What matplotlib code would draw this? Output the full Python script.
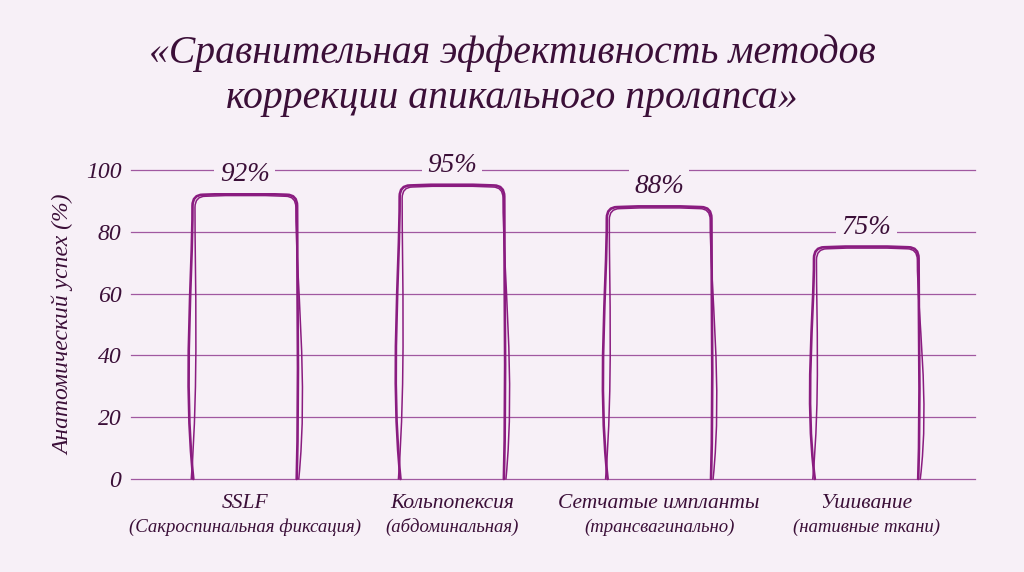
import matplotlib
matplotlib.use("Agg")
import matplotlib.pyplot as plt
from matplotlib.path import Path
from matplotlib.patches import PathPatch
import numpy as np

# ── Data ───────────────────────────────────────────────────────────────────────
TITLE = "«Сравнительная эффективность методов\nкоррекции апикального пролапса»"
METHODS = ["SSLF", "Кольпопексия", "Сетчатые импланты", "Ушивание"]
METHOD_NOTES = ["(Сакроспинальная фиксация)", "(абдоминальная)",
                "(трансвагинально)", "(нативные ткани)"]
SUCCESS = [92, 95, 88, 75]
Y_TICKS = [0, 20, 40, 60, 80, 100]
Y_LABEL = "Анатомический успех (%)"

# ── Style ──────────────────────────────────────────────────────────────────────
BG = "#f7f0f7"
TEXT = "#3b0f38"
BAR = "#8a1c80"
GRID = "#a058a0"

plt.rcParams["font.family"] = ["Liberation Serif", "DejaVu Serif"]
plt.rcParams["font.style"] = "italic"

# hand-drawn look, per stroke:
# (linewidth, left bow, right bow, top lift, left foot, right foot, left inset, right inset)
STROKES = [
    (1.9, -0.045, 0.010, 0.0, 0.004, -0.002, 0.000, 0.000),
    (1.1, 0.030, 0.055, -0.5, -0.006, 0.008, 0.012, -0.006),
]


def bar_outline(rect, rx, ry, st):
    """Open outline (no bottom edge) with rounded top corners and bowed sides."""
    _, lb, rb, lift, lf, rf, li, ri = st
    x0 = rect.get_x()
    x1 = x0 + rect.get_width()
    h = rect.get_height() + lift
    xl = x0 + li
    xr = x1 + ri
    verts = [(x0 + lf, 0), (x0 + lb, h * 0.35), (xl, h * 0.7), (xl, h - ry),
             (xl, h), (xl + rx, h),
             (0.5 * (xl + xr), h + 0.6), (xr - rx, h),
             (xr, h), (xr, h - ry),
             (xr, h * 0.7), (x1 + rb, h * 0.35), (x1 + rf, 0)]
    codes = [Path.MOVETO, Path.CURVE4, Path.CURVE4, Path.CURVE4,
             Path.CURVE3, Path.CURVE3,
             Path.CURVE3, Path.CURVE3,
             Path.CURVE3, Path.CURVE3,
             Path.CURVE4, Path.CURVE4, Path.CURVE4]
    return Path(verts, codes)


fig = plt.figure(figsize=(10.24, 5.72), dpi=100)
fig.patch.set_facecolor(BG)
ax = fig.add_axes([0.128, 0.1626, 0.824, 0.5402])
ax.set_facecolor(BG)

x = np.arange(len(METHODS))
bars = ax.bar(x, SUCCESS, width=0.505, color="none", edgecolor="none")

for rect in bars:
    for st in STROKES:
        p = PathPatch(bar_outline(rect, 0.05, 3.6, st), facecolor="none",
                      edgecolor=BAR, linewidth=st[0], capstyle="round",
                      joinstyle="round", zorder=3, clip_on=False)
        ax.add_patch(p)

for xi, v in zip(x, SUCCESS):
    ax.text(xi, v + 6.5, f"{v}%", ha="center", va="center", fontsize=19.5,
            color=TEXT, zorder=5,
            bbox=dict(boxstyle="square,pad=0.2", facecolor=BG, edgecolor="none"))

ax.set_ylim(0, 100)
ax.set_xlim(-0.549, 3.524)
ax.set_yticks(Y_TICKS)
ax.set_yticklabels([str(t) for t in Y_TICKS], fontsize=17, color=TEXT)
ax.tick_params(axis="y", length=0, pad=7)
ax.set_xticks([])
for s in ax.spines.values():
    s.set_visible(False)
for t in Y_TICKS:
    ax.axhline(t, color=GRID, linewidth=0.9, zorder=1, clip_on=False)
ax.set_ylabel(Y_LABEL, fontsize=17, color=TEXT, labelpad=8)

for xi, name, note in zip(x, METHODS, METHOD_NOTES):
    ax.text(xi, -0.078, name, transform=ax.get_xaxis_transform(),
            ha="center", va="center", fontsize=15.5, color=TEXT)
    ax.text(xi, -0.155, note, transform=ax.get_xaxis_transform(),
            ha="center", va="center", fontsize=13.5, color=TEXT)

fig.text(0.5, 0.868, TITLE, ha="center", va="center", fontsize=28.5,
         color=TEXT, linespacing=1.3)

fig.savefig("out.png", dpi=100, facecolor=BG)
